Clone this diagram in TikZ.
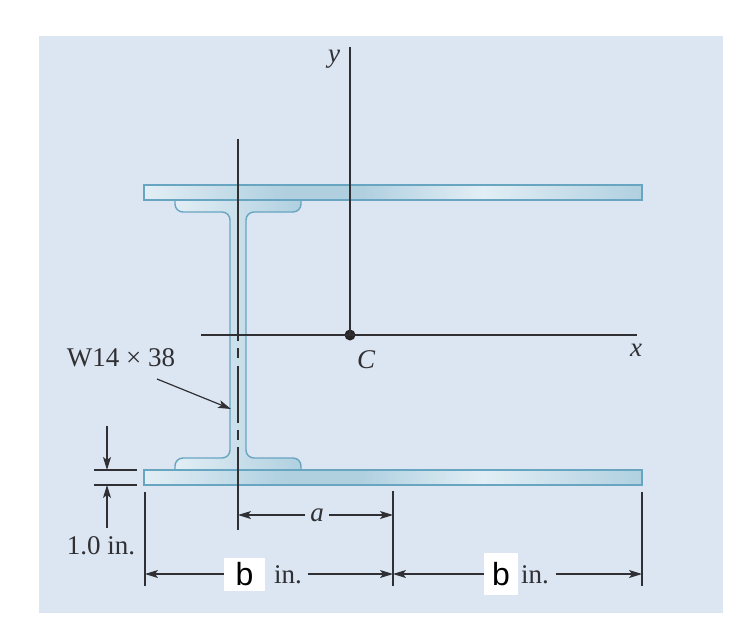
\documentclass[tikz,border=0pt]{standalone}
\usepackage{fontspec}
\setmainfont{Liberation Serif}
\newfontfamily\labelsans{Liberation Sans}
\usetikzlibrary{arrows.meta}
\definecolor{myPanel}{RGB}{219, 230, 242}
\definecolor{myEdge}{RGB}{104, 165, 193}
\definecolor{myLine}{RGB}{48, 48, 52}
\definecolor{mySteelA}{RGB}{226, 238, 245}
\definecolor{mySteelB}{RGB}{176, 208, 224}
\pgfdeclarehorizontalshading{plateshade}{100bp}{
	color(0bp)=(mySteelA); color(25bp)=(mySteelA); color(39bp)=(mySteelB); color(47bp)=(mySteelB);
	color(59bp)=(mySteelA); color(75bp)=(mySteelB); color(100bp)=(mySteelB)}
\tikzset{
	plate/.style={draw=myEdge, line width=1.4pt, shading=plateshade},
	section/.style={draw=myEdge, line width=1.4pt, left color=mySteelA, right color=mySteelB},
	axisline/.style={draw=myLine, line width=1.4pt},
	dimline/.style={draw=myLine, line width=1.2pt, -{Stealth[length=13pt, width=8pt, inset=3pt]}},
	lbl/.style={inner sep=0pt, text=myLine, font=\fontsize{27}{30}\selectfont},
	blank/.style={fill=white, inner sep=0pt, minimum width=41pt, minimum height=33pt, font=\labelsans\fontsize{32}{34}\selectfont}
}

\begin{document}
\begin{tikzpicture}[x=1pt, y=-1pt]
	\useasboundingbox (0,0) rectangle (730,624);
	\fill[myPanel] (39,36) rectangle (723,613);

	% beam between the two plates
	\draw[section] (175,200) [rounded corners=8pt] -- (175,212) -- (230,212) -- (230,458) -- (175,458)
		[sharp corners] -- (175,470) -- (301,470) [rounded corners=8pt] -- (301,458) -- (246,458)
		-- (246,212) -- (301,212) [sharp corners] -- (301,200) -- cycle;
	\draw[plate] (144,185) rectangle (642,200);
	\draw[plate] (144,470) rectangle (642,485);

	% center line of the beam
	\foreach \ya/\yb in {139/341, 348/358, 366/423, 430/440, 447/530}
		\draw[axisline] (238,\ya) -- (238,\yb);

	% axes
	\draw (350,335) node[circle, fill=black!85, inner sep=0pt, minimum size=11pt] (C) {};
	\draw (350,47) coordinate (ytop);
	\draw (201,335) coordinate (xleft);
	\draw (637,335) coordinate (xright);
	\draw[axisline] (ytop) -- (C.center);
	\draw[axisline] (xleft) -- (xright);
	\draw (334,59) node[lbl] (ylabel) {\itshape y};
	\draw (366,360) node[lbl] (Clabel) {\itshape C};
	\draw (636,350) node[lbl] (xlabel) {\itshape x};

	% section label
	\draw (121,358) node[lbl] (wlabel) {W14 × 38};
	\draw (157,379) coordinate (wstart);
	\draw (231,409) coordinate (wend);
	\draw[dimline] (wstart) -- (wend);

	% plate thickness
	\draw (107,426) coordinate (tdown);
	\draw (107,470) coordinate (ttop);
	\draw (107,485) coordinate (tbot);
	\draw (107,546) node[lbl, xshift=-6pt] (tlabel) {1.0 in.};
	\draw (107,528) coordinate (tup);
	\draw[axisline] (94,470) -- (137,470);
	\draw[axisline] (94,485) -- (137,485);
	\draw[dimline] (tdown) -- (ttop);
	\draw[dimline] (tup) -- (tbot);

	% extension lines
	\draw[axisline] (145,492) -- (145,586);
	\draw[axisline] (393,491) -- (393,586);
	\draw[axisline] (642,492) -- (642,586);

	% dimension a
	\draw (317,515) node[lbl] (alabel) {\itshape a};
	\draw (305,515) coordinate (astarta);
	\draw (329,515) coordinate (astartb);
	\draw (238,515) coordinate (aleft);
	\draw (393,515) coordinate (aright);
	\draw[dimline] (astarta) -- (aleft);
	\draw[dimline] (astartb) -- (aright);

	% dimensions b
	\draw (244.5,574) node[blank] (bleft) {b};
	\draw (501,574) node[blank, minimum width=34pt, minimum height=42pt] (bright) {b};
	\draw (288,575) node[lbl] (inleft) {in.};
	\draw (535,575) node[lbl] (inright) {in.};
	\draw (145,574) coordinate (p0);
	\draw (393,574) coordinate (p1);
	\draw (642,574) coordinate (p2);
	\draw (308,574) coordinate (qa);
	\draw (556,574) coordinate (qb);
	\draw[dimline] (bleft.west) -- (p0);
	\draw[dimline] (qa) -- (p1);
	\draw[dimline] (bright.west) -- (p1);
	\draw[dimline] (qb) -- (p2);
\end{tikzpicture}
\end{document}
